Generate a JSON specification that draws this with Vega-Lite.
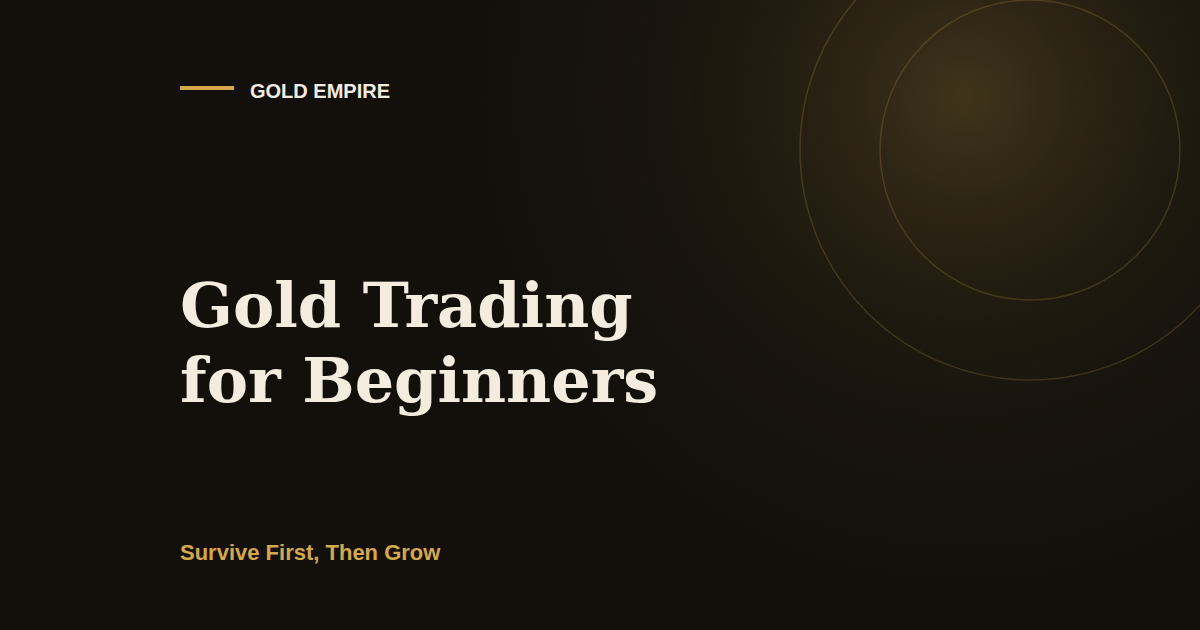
{
  "$schema": "https://vega.github.io/schema/vega-lite/v6.json",
  "width": 1200,
  "height": 630,
  "padding": 0,
  "autosize": {"type": "none"},
  "background": "#13100b",
  "config": {"view": {"stroke": null}, "axis": null},
  "layer": [
    {
      "data": {"values": [{"x": 965, "y": 97, "r": 500}]},
      "mark": {
        "type": "point",
        "shape": "circle",
        "filled": true,
        "opacity": 1,
        "strokeWidth": 0,
        "fill": {
          "gradient": "radial",
          "x1": 0.5, "y1": 0.5, "r1": 0,
          "x2": 0.5, "y2": 0.5, "r2": 0.5,
          "stops": [
            {"offset": 0, "color": "rgba(214,170,80,0.23)"},
            {"offset": 0.2, "color": "rgba(214,170,80,0.14)"},
            {"offset": 0.45, "color": "rgba(214,170,80,0.06)"},
            {"offset": 0.75, "color": "rgba(214,170,80,0.015)"},
            {"offset": 1, "color": "rgba(214,170,80,0)"}
          ]
        }
      },
      "encoding": {
        "x": {"field": "x", "type": "quantitative", "scale": {"domain": [0, 1200], "nice": false, "zero": false}, "axis": null},
        "y": {"field": "y", "type": "quantitative", "scale": {"domain": [0, 630], "nice": false, "zero": false, "reverse": true}, "axis": null},
        "size": {"field": "r", "type": "quantitative", "scale": {"type": "pow", "exponent": 2, "domain": [0, 1000], "range": [0, 4000000], "clamp": false}, "legend": null}
      }
    },
    {
      "data": {"values": [{"x": 1030, "y": 150, "r": 150}, {"x": 1030, "y": 150, "r": 230}]},
      "mark": {"type": "point", "shape": "circle", "filled": false, "opacity": 1, "stroke": "#d4a84b", "strokeOpacity": 0.2, "strokeWidth": 1.5},
      "encoding": {
        "x": {"field": "x", "type": "quantitative", "scale": {"domain": [0, 1200], "nice": false, "zero": false}, "axis": null},
        "y": {"field": "y", "type": "quantitative", "scale": {"domain": [0, 630], "nice": false, "zero": false, "reverse": true}, "axis": null},
        "size": {"field": "r", "type": "quantitative", "scale": {"type": "pow", "exponent": 2, "domain": [0, 1000], "range": [0, 4000000], "clamp": false}, "legend": null}
      }
    },
    {
      "data": {"values": [{"x": 180, "x2": 234, "y": 88}]},
      "mark": {"type": "rule", "stroke": "#d4a84b", "strokeWidth": 4},
      "encoding": {
        "x": {"field": "x", "type": "quantitative", "scale": {"domain": [0, 1200], "nice": false, "zero": false}, "axis": null},
        "x2": {"field": "x2"},
        "y": {"field": "y", "type": "quantitative", "scale": {"domain": [0, 630], "nice": false, "zero": false, "reverse": true}, "axis": null}
      }
    },
    {
      "data": {"values": [{"x": 250, "y": 98, "text": "GOLD EMPIRE"}]},
      "mark": {"type": "text", "align": "left", "baseline": "alphabetic", "font": "Liberation Sans", "fontWeight": "bold", "fontSize": 20, "fill": "#f2ece0"},
      "encoding": {
        "x": {"field": "x", "type": "quantitative", "scale": {"domain": [0, 1200], "nice": false, "zero": false}, "axis": null},
        "y": {"field": "y", "type": "quantitative", "scale": {"domain": [0, 630], "nice": false, "zero": false, "reverse": true}, "axis": null},
        "text": {"field": "text"}
      }
    },
    {
      "data": {"values": [{"x": 180, "y": 327, "text": "Gold Trading"}, {"x": 180, "y": 402, "text": "for Beginners"}]},
      "mark": {"type": "text", "align": "left", "baseline": "alphabetic", "font": "DejaVu Serif", "fontWeight": "bold", "fontSize": 62, "fill": "#f3ecdf"},
      "encoding": {
        "x": {"field": "x", "type": "quantitative", "scale": {"domain": [0, 1200], "nice": false, "zero": false}, "axis": null},
        "y": {"field": "y", "type": "quantitative", "scale": {"domain": [0, 630], "nice": false, "zero": false, "reverse": true}, "axis": null},
        "text": {"field": "text"}
      }
    },
    {
      "data": {"values": [{"x": 180, "y": 560, "text": "Survive First, Then Grow"}]},
      "mark": {"type": "text", "align": "left", "baseline": "alphabetic", "font": "Liberation Sans", "fontWeight": "bold", "fontSize": 22, "fill": "#d4a84b"},
      "encoding": {
        "x": {"field": "x", "type": "quantitative", "scale": {"domain": [0, 1200], "nice": false, "zero": false}, "axis": null},
        "y": {"field": "y", "type": "quantitative", "scale": {"domain": [0, 630], "nice": false, "zero": false, "reverse": true}, "axis": null},
        "text": {"field": "text"}
      }
    }
  ]
}
